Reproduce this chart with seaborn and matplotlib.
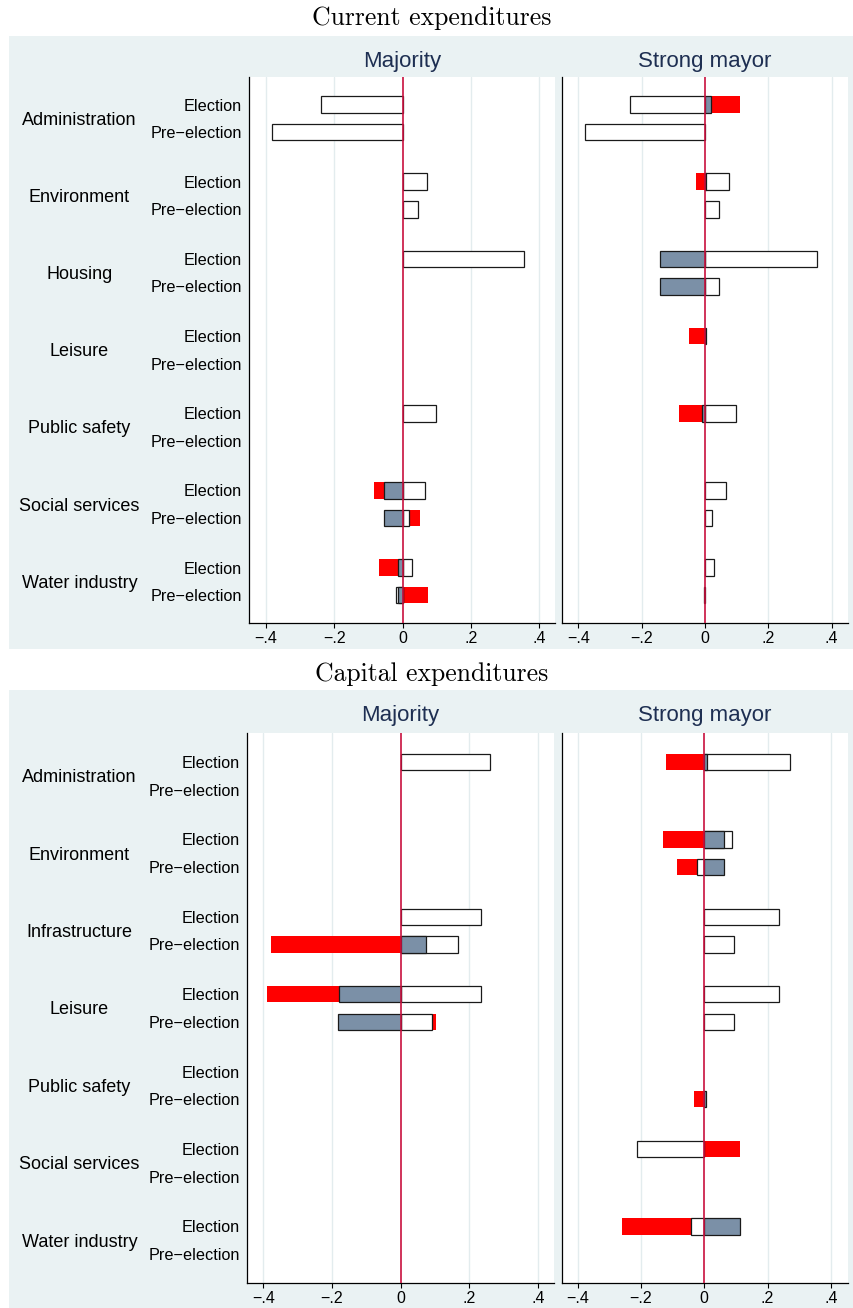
import numpy as np
import pandas as pd
import matplotlib
matplotlib.use("Agg")
import matplotlib.pyplot as plt
import matplotlib.transforms as mtrans
from matplotlib.patches import Rectangle
import seaborn as sns

sns.set_theme(style="white")
plt.rcParams['font.family'] = ['Liberation Sans', 'DejaVu Sans']

nan = np.nan

# ---------------- data ----------------
row_labels = ["Election", "Pre\u2212election"]
cur_categories = ["Administration", "Environment", "Housing", "Leisure",
                  "Public safety", "Social services", "Water industry"]
cap_categories = ["Administration", "Environment", "Infrastructure", "Leisure",
                  "Public safety", "Social services", "Water industry"]
panel_titles = ["Majority", "Strong mayor"]
block_titles = ["Current expenditures", "Capital expenditures"]
xtick_values = [-0.4, -0.2, 0, 0.2, 0.4]
xtick_labels = ["\u2212.4", "\u2212.2", "0", ".2", ".4"]

# each list: [cat1 Election, cat1 Pre-election, cat2 Election, ...]
# Current expenditures, Majority
cur_maj_white = [-0.238, -0.382, 0.070, 0.044, 0.355, nan, nan, nan,
                 0.0975, nan, 0.065, 0.018, 0.028, -0.019]
cur_maj_grey = [nan, nan, nan, nan, nan, nan, nan, nan,
                nan, nan, -0.055, -0.056, -0.013, -0.014]
cur_maj_red = [nan, nan, nan, nan, nan, nan, nan, nan,
               nan, nan, -0.084, 0.051, -0.070, 0.075]
# Current expenditures, Strong mayor
cur_sm_white = [-0.236, -0.379, 0.076, 0.043, 0.354, 0.043, nan, nan,
                0.098, nan, 0.065, 0.021, 0.029, -0.004]
cur_sm_grey = [0.019, nan, 0.004, nan, -0.142, -0.142, 0.003, nan,
               -0.009, nan, nan, nan, nan, nan]
cur_sm_red = [0.111, nan, -0.029, nan, nan, nan, -0.049, nan,
              -0.083, nan, nan, nan, nan, nan]
# Capital expenditures, Majority
cap_maj_white = [0.261, nan, nan, nan, 0.234, 0.168, 0.234, 0.092,
                 nan, nan, nan, nan, nan, nan]
cap_maj_grey = [nan, nan, nan, nan, nan, 0.075, -0.180, -0.183,
                nan, nan, nan, nan, nan, nan]
cap_maj_red = [nan, nan, nan, nan, nan, -0.376, -0.390, 0.102,
               nan, nan, nan, nan, nan, nan]
# Capital expenditures, Strong mayor
cap_sm_white = [0.271, nan, 0.086, -0.022, 0.235, 0.094, 0.235, 0.094,
                nan, nan, -0.212, nan, -0.042, nan]
cap_sm_grey = [0.009, nan, 0.062, 0.062, nan, nan, nan, nan,
               nan, 0.006, nan, nan, 0.112, nan]
cap_sm_red = [-0.120, nan, -0.131, -0.085, nan, nan, nan, nan,
              nan, -0.033, 0.113, nan, -0.260, nan]

# ---------------- style ----------------
W, H = 854, 1308
BG = "#EAF2F3"
GRID = "#E3ECEE"
NAVY = "#1E2F52"
GREY = "#7B90A7"
RED = "#FF0000"
ZERO = "#C8103E"
EDGE = "#1a1a1a"
GROUP_GAP = 2.8

fig = plt.figure(figsize=(W / 100, H / 100), dpi=100)
fig.patch.set_facecolor("white")


def fx(px):
    return px / W


def fy(py):
    return 1 - py / H


def add_ax(left, right, top, bottom):
    return fig.add_axes([fx(left), fy(bottom), (right - left) / W, (bottom - top) / H])


positions = [g * GROUP_GAP + r for g in range(7) for r in (0, 1)]


def draw_panel(ax, white, grey, red, xlim, ylim, categories=None):
    ax.set_facecolor("white")
    for xv in xtick_values:
        if xv != 0:
            ax.axvline(xv, color=GRID, lw=1.0, zorder=0)
    specs = [(red, RED, "none", 0.0), (white, "white", EDGE, 0.9), (grey, GREY, EDGE, 0.9)]
    for vals, fc, ec, lw in specs:
        df = pd.DataFrame({"y": positions, "x": vals}).dropna()
        if len(df) == 0:
            continue
        u = np.unique(df["y"].values)
        nw = np.diff(u).min() if len(u) > 1 else 1.0
        sns.barplot(data=df, x="x", y="y", orient="h", native_scale=True,
                    width=0.6 / nw, color=fc, saturation=1, edgecolor=ec,
                    linewidth=lw, errorbar=None, ax=ax, zorder=2)
    ax.axvline(0, color=ZERO, lw=1.2, zorder=5)
    ax.set_xlim(*xlim)
    ax.set_ylim(*ylim)
    ax.set_xlabel("")
    ax.set_ylabel("")
    ax.set_xticks(xtick_values)
    ax.set_xticklabels(xtick_labels, fontsize=11.5, color="black")
    ax.tick_params(axis="x", direction="out", length=3.5, width=0.8, color="black", pad=2.5, bottom=True)
    if categories is not None:
        ax.set_yticks(positions)
        ax.set_yticklabels(row_labels * 7, fontsize=11.7, color="black")
        ax.tick_params(axis="y", length=0, pad=5)
        trans = mtrans.blended_transform_factory(fig.transFigure, ax.transData)
        for g, cat in enumerate(categories):
            ax.text(fx(79.5), g * GROUP_GAP + 0.57, cat, transform=trans,
                    ha="center", va="center", fontsize=13, color="black")
    else:
        ax.set_yticks([])
    for s in ["top", "right"]:
        ax.spines[s].set_visible(False)
    for s in ["left", "bottom"]:
        ax.spines[s].set_visible(True)
        ax.spines[s].set_color("black")
        ax.spines[s].set_linewidth(0.9)
    ax.grid(False)


# ---- block backgrounds ----
fig.patches.append(Rectangle((fx(9), fy(649)), (W - 9) / W, (649 - 36) / H,
                             transform=fig.transFigure, facecolor=BG, edgecolor="none", zorder=-10))
fig.patches.append(Rectangle((fx(9), fy(1308)), (W - 9) / W, (1308 - 690) / H,
                             transform=fig.transFigure, facecolor=BG, edgecolor="none", zorder=-10))

# ---- titles ----
fig.text(fx(431.5), fy(18), block_titles[0], fontfamily="cmr10", fontsize=18.5,
         ha="center", va="center", color="black")
fig.text(fx(431.5), fy(674), block_titles[1], fontfamily="cmr10", fontsize=18.5,
         ha="center", va="center", color="black")

# ---- current expenditures ----
ax1 = add_ax(249, 555, 77, 622.7)
draw_panel(ax1, cur_maj_white, cur_maj_grey, cur_maj_red, (-0.450, 0.446), (18.8, -1.0), cur_categories)
ax2 = add_ax(562.3, 847.7, 77, 622.7)
draw_panel(ax2, cur_sm_white, cur_sm_grey, cur_sm_red, (-0.4506, 0.4506), (18.8, -1.0))
fig.text(fx(402), fy(61.2), panel_titles[0], fontsize=16, color=NAVY, ha="center", va="center")
fig.text(fx(705), fy(61.2), panel_titles[1], fontsize=16, color=NAVY, ha="center", va="center")

# ---- capital expenditures ----
ax3 = add_ax(246.7, 554, 733, 1283)
draw_panel(ax3, cap_maj_white, cap_maj_grey, cap_maj_red, (-0.448, 0.446), (18.85, -1.05), cap_categories)
ax4 = add_ax(561.7, 847.7, 733, 1283)
draw_panel(ax4, cap_sm_white, cap_sm_grey, cap_sm_red, (-0.4505, 0.453), (18.85, -1.05))
fig.text(fx(400), fy(716), panel_titles[0], fontsize=16, color=NAVY, ha="center", va="center")
fig.text(fx(705), fy(716), panel_titles[1], fontsize=16, color=NAVY, ha="center", va="center")

fig.savefig("out.png", dpi=100, facecolor="white")
